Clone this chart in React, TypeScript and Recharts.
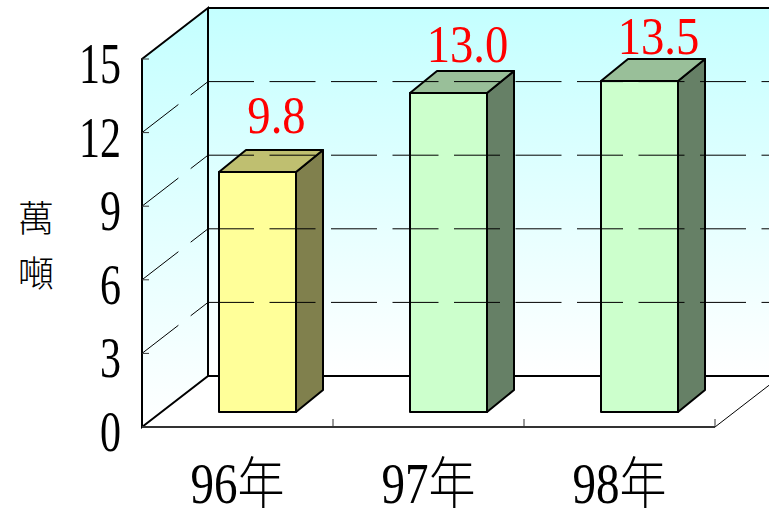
import { Bar, BarChart, Customized, LabelList, XAxis, YAxis } from "recharts";

const years = ["96年", "97年", "98年"];
const tonnage = [9.8, 13.0, 13.5];
const yTicks = [0, 3, 6, 9, 12, 15];

const W = 769;
const H = 508;
const PLOT = { left: 142, right: 715, top: 59, bottom: 427 };
// how far the back wall sits behind the front plane
const WALL = { dx: 66, dy: -51 };
// bar front face is pushed into the floor, and has its own depth
const BAR_SHIFT = { dx: 20, dy: -15 };
const BAR_DEPTH = { dx: 27, dy: -22 };
const BAND = (PLOT.right - PLOT.left) / years.length;
const SERIF = '"Liberation Serif", "Noto Sans CJK TC", serif';

const FACES = [
  { front: "#ffff99", top: "#bfbf70", side: "#80804d" },
  { front: "#ccffcc", top: "#99bf99", side: "#668066" },
  { front: "#ccffcc", top: "#99bf99", side: "#668066" },
];
// Excel nudged the labels by hand, no single offset fits
const LABEL_LIFT = [39, 31, 27];

function Walls() {
  const backLeft = PLOT.left + WALL.dx;
  const backTop = PLOT.top + WALL.dy;
  const backBottom = PLOT.bottom + WALL.dy;
  const edgeEnd = W - PLOT.right;
  return (
    <g>
      <defs>
        <linearGradient id="wallFill" x1="0" y1="0" x2="0" y2="1">
          <stop offset="0%" stopColor="#c4ffff" />
          <stop offset="100%" stopColor="#ffffff" />
        </linearGradient>
      </defs>
      <rect x={backLeft} y={backTop} width={W - backLeft} height={backBottom - backTop} fill="url(#wallFill)" />
      <polygon
        points={`${PLOT.left},${PLOT.top} ${backLeft},${backTop} ${backLeft},${backBottom} ${PLOT.left},${PLOT.bottom}`}
        fill="url(#wallFill)"
      />
      <line x1={PLOT.right} y1={PLOT.bottom} x2={W} y2={PLOT.bottom + (edgeEnd * WALL.dy) / WALL.dx} stroke="#000" strokeWidth={1} />
      <line x1={backLeft} y1={backTop} x2={W} y2={backTop} stroke="#000" strokeWidth={2} />
      <line x1={backLeft} y1={backBottom} x2={W} y2={backBottom} stroke="#000" strokeWidth={2} />
    </g>
  );
}

function WallFrame() {
  const backLeft = PLOT.left + WALL.dx;
  const backTop = PLOT.top + WALL.dy;
  const backBottom = PLOT.bottom + WALL.dy;
  return (
    <polygon
      points={`${PLOT.left},${PLOT.top} ${backLeft},${backTop} ${backLeft},${backBottom} ${PLOT.left},${PLOT.bottom}`}
      fill="none"
      stroke="#000"
      strokeWidth={2}
    />
  );
}

function YTick({ y, payload }: any) {
  const isFloor = payload.value === 0;
  const isTop = payload.value === 15;
  const backX = PLOT.left + WALL.dx;
  return (
    <g>
      {!isFloor && !isTop && (
        <>
          <line x1={PLOT.left} y1={y} x2={backX} y2={y + WALL.dy} stroke="#000" strokeWidth={1} strokeDasharray="46 15.5" />
          <line x1={backX} y1={y + WALL.dy} x2={W} y2={y + WALL.dy} stroke="#000" strokeWidth={1} strokeDasharray="46 15.5" />
        </>
      )}
      <line x1={PLOT.left} y1={y} x2={PLOT.left + 7} y2={y} stroke="#333" strokeWidth={1} />
      <text
        transform={`translate(121,${y + 24}) scale(0.75,1)`}
        textAnchor="end"
        fontFamily={SERIF}
        fontSize={56}
        fill="#000"
      >
        {payload.value}
      </text>
    </g>
  );
}

function XTick({ x, payload }: any) {
  const edge = x + BAND / 2;
  return (
    <g>
      <line x1={edge} y1={PLOT.bottom} x2={edge} y2={PLOT.bottom - 8} stroke="#333" strokeWidth={1} />
      <text
        transform={`translate(${x},503) scale(0.84,1)`}
        textAnchor="middle"
        fontFamily={SERIF}
        fontWeight={300}
        fontSize={56}
        fill="#000"
      >
        {payload.value}
      </text>
    </g>
  );
}

function Box3D({ x, y, width, height, index }: any) {
  const f = FACES[index];
  const x0 = Math.round(x + BAR_SHIFT.dx);
  const y0 = Math.round(y + BAR_SHIFT.dy);
  const x1 = x0 + width;
  const y1 = Math.round(y + height + BAR_SHIFT.dy);
  const { dx, dy } = BAR_DEPTH;
  return (
    <g stroke="#000" strokeWidth={2} strokeLinejoin="round">
      <polygon points={`${x1},${y0} ${x1 + dx},${y0 + dy} ${x1 + dx},${y1 + dy} ${x1},${y1}`} fill={f.side} />
      <polygon points={`${x0},${y0} ${x0 + dx},${y0 + dy} ${x1 + dx},${y0 + dy} ${x1},${y0}`} fill={f.top} />
      <rect x={x0} y={y0} width={width} height={y1 - y0} fill={f.front} />
    </g>
  );
}

function ValueLabel({ x, y, width, value, index }: any) {
  const cx = x + width / 2 + BAR_SHIFT.dx + 19;
  const base = y + BAR_SHIFT.dy - LABEL_LIFT[index];
  return (
    <text
      transform={`translate(${cx},${base}) scale(0.88,1)`}
      textAnchor="middle"
      fontFamily={SERIF}
      fontSize={53}
      fill="#ff0000"
    >
      {value.toFixed(1)}
    </text>
  );
}

function UnitLabel() {
  return (
    <g fontFamily={SERIF} fontWeight={300} fontSize={36} fill="#000" textAnchor="middle">
      <text x={36} y={232}>萬</text>
      <text x={36} y={287}>噸</text>
    </g>
  );
}

export default function App() {
  const data = years.map((year, i) => ({ year, value: tonnage[i] }));
  return (
    <div style={{ position: "absolute", left: 0, top: 0, width: W, height: H, overflow: "hidden", background: "#fff" }}>
      <BarChart
        width={W + 60}
        height={H}
        data={data}
        margin={{ top: PLOT.top, right: W + 60 - PLOT.right, left: 0, bottom: 0 }}
      >
        <Customized component={Walls} />
        <YAxis
          width={PLOT.left}
          domain={[0, 15]}
          ticks={yTicks}
          interval={0}
          axisLine={false}
          tickLine={false}
          tick={YTick}
        />
        <XAxis
          dataKey="year"
          height={H - PLOT.bottom}
          interval={0}
          tickLine={false}
          axisLine={{ stroke: "#333", strokeWidth: 2 }}
          tick={XTick}
        />
        <Customized component={WallFrame} />
        <Customized component={UnitLabel} />
        <Bar dataKey="value" barSize={77} shape={Box3D} isAnimationActive={false}>
          <LabelList dataKey="value" content={ValueLabel} />
        </Bar>
      </BarChart>
    </div>
  );
}
